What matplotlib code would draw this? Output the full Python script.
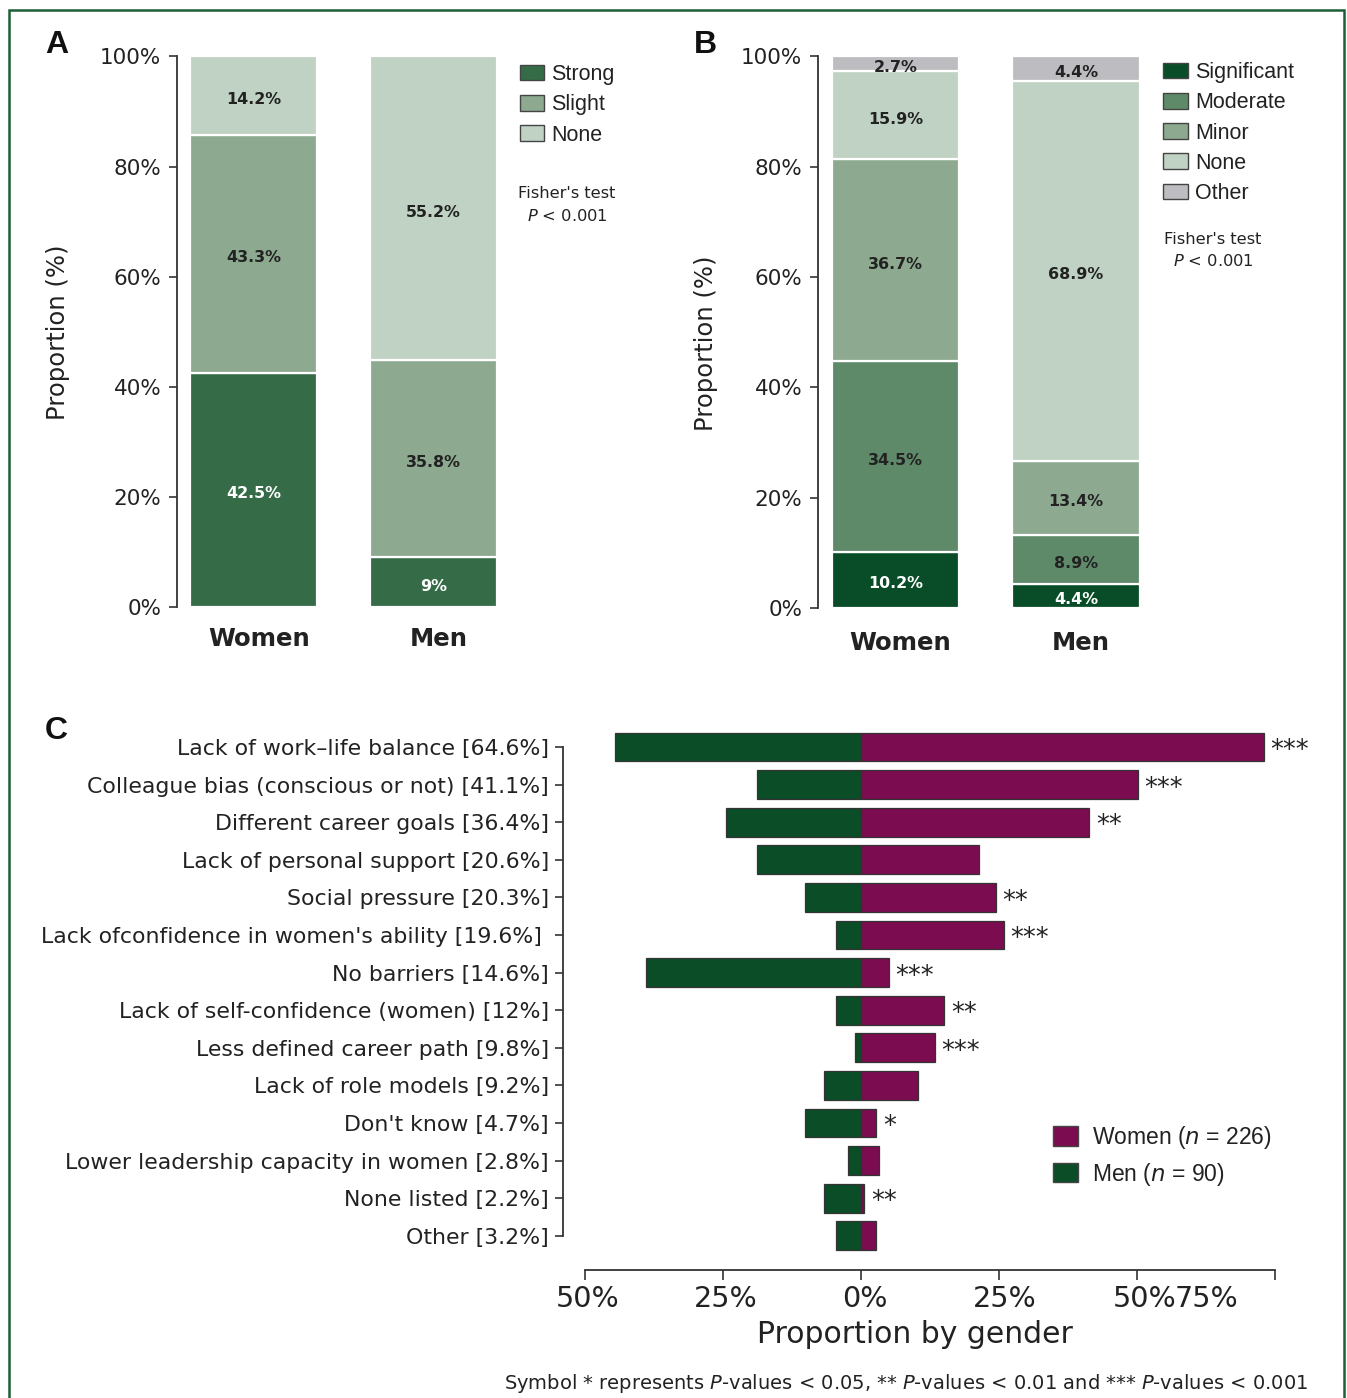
import matplotlib
matplotlib.use('Agg')
import matplotlib.pyplot as plt
from matplotlib.patches import Patch, Rectangle
import matplotlib.transforms as mtransforms

W, H = 1347, 1398
DPI = 100

# ---------------- data ----------------
groups = ['Women', 'Men']

a_cats = ['Strong', 'Slight', 'None']
a_strong = [42.5, 9.0]
a_slight = [43.3, 35.8]
a_none = [14.2, 55.2]
a_labels = [['42.5%', '9%'], ['43.3%', '35.8%'], ['14.2%', '55.2%']]
a_colors = ['#356b47', '#8daa91', '#bfd2c3']

b_cats = ['Significant', 'Moderate', 'Minor', 'None', 'Other']
b_significant = [10.2, 4.4]
b_moderate = [34.5, 8.9]
b_minor = [36.7, 13.4]
b_none = [15.9, 68.9]
b_other = [2.7, 4.4]
b_labels = [['10.2%', '4.4%'], ['34.5%', '8.9%'], ['36.7%', '13.4%'],
            ['15.9%', '68.9%'], ['2.7%', '4.4%']]
b_colors = ['#084d27', '#5f8a69', '#8daa91', '#bfd2c3', '#bdbdc1']

c_labels = ['Lack of work\u2013life balance [64.6%]',
            'Colleague bias (conscious or not) [41.1%]',
            'Different career goals [36.4%]',
            'Lack of personal support [20.6%]',
            'Social pressure [20.3%]',
            "Lack ofconfidence in women's ability [19.6%] ",
            'No barriers [14.6%]',
            'Lack of self-confidence (women) [12%]',
            'Less defined career path [9.8%]',
            'Lack of role models [9.2%]',
            "Don't know [4.7%]",
            'Lower leadership capacity in women [2.8%]',
            'None listed [2.2%]',
            'Other [3.2%]']
c_women = [73.0, 50.2, 41.4, 21.4, 24.4, 25.9, 5.0, 15.1, 13.4, 10.3, 2.8, 3.3, 0.6, 2.8]
c_men = [44.6, 18.9, 24.5, 18.9, 10.1, 4.5, 39.0, 4.5, 1.1, 6.7, 10.1, 2.3, 6.7, 4.5]
c_sig = ['***', '***', '**', '', '**', '***', '***', '**', '***', '', '*', '', '**', '']
c_ticks = [-50, -25, 0, 25, 50, 75]
c_ticklabels = ['50%', '25%', '0%', '25%', '50%', '75%']
c_women_label = r'Women ($\it{n}$ = 226)'
c_men_label = r'Men ($\it{n}$ = 90)'

y_ticks = [0, 20, 40, 60, 80, 100]
y_ticklabels = ['0%', '20%', '40%', '60%', '80%', '100%']

# ---------------- style ----------------
plt.rcParams['font.family'] = ['DejaVu Sans']
TXT = '#222222'
SPINE = '#333333'
LEG_FONT = 'Liberation Sans'

fig = plt.figure(figsize=(W / DPI, H / DPI), dpi=DPI)
fig.patch.set_facecolor('white')


def rect(x0, y0, x1, y1):
    return [x0 / W, 1 - y1 / H, (x1 - x0) / W, (y1 - y0) / H]


def shift(artist, dx=0, dy=0):
    artist.set_transform(artist.get_transform() +
                         mtransforms.ScaledTranslation(dx / DPI, -dy / DPI, fig.dpi_scale_trans))


def stacked(ax, series, colors, labels_white, texts):
    bottoms = [0.0, 0.0]
    for k, (vals, col) in enumerate(zip(series, colors)):
        ax.bar([0, 1], vals, width=0.706, bottom=bottoms, color=col,
               edgecolor='white', linewidth=1.6)
        for i in range(2):
            t = ax.text(i, bottoms[i] + vals[i] / 2, texts[k][i], ha='center', va='center',
                        fontsize=11.4, fontweight='bold',
                        color='white' if k in labels_white else TXT)
            shift(t, dy=4)
        bottoms = [bottoms[i] + vals[i] for i in range(2)]


def style_bar_axes(ax, xlim, pad_x):
    ax.set_xlim(*xlim)
    ax.set_ylim(0, 100)
    for s in ['top', 'right', 'bottom']:
        ax.spines[s].set_visible(False)
    ax.spines['left'].set_color(SPINE)
    ax.spines['left'].set_linewidth(1.3)
    ax.set_yticks(y_ticks)
    ax.set_yticklabels(y_ticklabels, fontsize=15.5, color=TXT)
    ax.tick_params(axis='y', length=5.8, width=1.2, color=SPINE, pad=5.5)
    ax.set_xticks([0, 1])
    ax.set_xticklabels(groups, fontsize=17.6, fontweight='bold', color=TXT)
    ax.tick_params(axis='x', length=0, pad=pad_x)
    for lab in ax.get_xticklabels():
        shift(lab, dx=5)


def side_legend(ax, handles, labels, x, y):
    ax.legend(handles, labels, loc='upper left', bbox_to_anchor=(x / W, 1 - y / H),
              bbox_transform=fig.transFigure, frameon=False, borderpad=0, borderaxespad=0,
              handlelength=1.16, handleheight=0.74, handletextpad=0.32, labelspacing=0.43,
              prop={'family': LEG_FONT, 'size': 15.5}, labelcolor=TXT)


# ---------------- Panel A ----------------
axA = fig.add_axes(rect(177, 56.4, 510, 607))
stacked(axA, [a_strong, a_slight, a_none], a_colors, [0], a_labels)
style_bar_axes(axA, (-0.426, 1.424), 14.5)
fig.text(58 / W, 1 - 332 / H, 'Proportion (%)', rotation=90, ha='center', va='center',
         fontsize=17.5, color=TXT)
hA = [Patch(facecolor=c, edgecolor='#444444', linewidth=1) for c in a_colors]
side_legend(axA, hA, a_cats, 519.5, 64)
fig.text(518 / W, 1 - 193 / H, "Fisher's test", ha='left', va='center', fontsize=11.7, color=TXT)
fig.text(527 / W, 1 - 216 / H, r"$\it{P}$ < 0.001", ha='left', va='center', fontsize=11.7, color=TXT)
fig.text(45 / W, 1 - 53 / H, 'A', ha='left', va='baseline', fontsize=23,
         fontweight='bold', family=LEG_FONT, color='#111111')

# ---------------- Panel B ----------------
axB = fig.add_axes(rect(818, 56.4, 1150, 608))
stacked(axB, [b_significant, b_moderate, b_minor, b_none, b_other], b_colors, [0], b_labels)
style_bar_axes(axB, (-0.43, 1.41), 16.5)
fig.text(706.5 / W, 1 - 343 / H, 'Proportion (%)', rotation=90, ha='center', va='center',
         fontsize=17.5, color=TXT)
hB = [Patch(facecolor=c, edgecolor='#444444', linewidth=1) for c in b_colors]
side_legend(axB, hB, b_cats, 1163, 62)
fig.text(1164 / W, 1 - 240 / H, "Fisher's test", ha='left', va='center', fontsize=11.7, color=TXT)
fig.text(1173 / W, 1 - 261 / H, r"$\it{P}$ < 0.001", ha='left', va='center', fontsize=11.7, color=TXT)
fig.text(694 / W, 1 - 53 / H, 'B', ha='left', va='baseline', fontsize=23,
         fontweight='bold', family=LEG_FONT, color='#111111')

# ---------------- Panel C ----------------
axC = fig.add_axes(rect(563, 715, 1320, 1270))
ypos = list(range(len(c_labels)))
women_col = '#7b0c4f'
men_col = '#0a4d27'
axC.barh(ypos, [-m for m in c_men], height=0.77, color=men_col, edgecolor='#333333', linewidth=0.9)
axC.barh(ypos, c_women, height=0.77, color=women_col, edgecolor='#333333', linewidth=0.9)
for i, s in enumerate(c_sig):
    if s:
        axC.text(c_women[i] + 1.2, i + 0.30, s, ha='left', va='baseline', fontsize=18.5, color=TXT)
axC.set_xlim(-54.02, 83.21)
axC.set_ylim(13.91, -0.851)
for s in ['top', 'right']:
    axC.spines[s].set_visible(False)
axC.spines['left'].set_bounds(0, 13)
axC.spines['bottom'].set_bounds(-50, 75)
for s in ['left', 'bottom']:
    axC.spines[s].set_color(SPINE)
    axC.spines[s].set_linewidth(1.3)
axC.set_yticks(ypos)
axC.set_yticklabels(c_labels, fontsize=15.85, color=TXT)
axC.tick_params(axis='y', length=5.8, width=1.2, color=SPINE, pad=4.3)
axC.set_xticks(c_ticks)
axC.set_xticklabels(c_ticklabels, fontsize=20.6, color=TXT)
axC.tick_params(axis='x', length=7.2, width=1.2, color=SPINE, pad=3.5)
x_offsets = [2, 3, 4, 6, 8, -68]
for lab, dx in zip(axC.get_xticklabels(), x_offsets):
    shift(lab, dx=dx)
fig.text(915 / W, 1 - 1343 / H, 'Proportion by gender', ha='center', va='baseline',
         fontsize=21.5, color=TXT)
fig.text(1308 / W, 1 - 1389 / H,
         r'Symbol * represents $\it{P}$-values < 0.05, ** $\it{P}$-values < 0.01 and *** $\it{P}$-values < 0.001',
         ha='right', va='baseline', fontsize=14, color=TXT)
hC = [Patch(facecolor=women_col, edgecolor='#444444', linewidth=1),
      Patch(facecolor=men_col, edgecolor='#444444', linewidth=1)]
axC.legend(hC, [c_women_label, c_men_label], loc='upper left',
           bbox_to_anchor=(1052.7 / W, 1 - 1124 / H), bbox_transform=fig.transFigure,
           frameon=False, borderpad=0, borderaxespad=0, handlelength=1.09,
           handleheight=0.92, handletextpad=0.61, labelspacing=0.42,
           prop={'family': LEG_FONT, 'size': 16.5}, labelcolor=TXT)
fig.text(45 / W, 1 - 739 / H, 'C', ha='left', va='baseline', fontsize=23,
         fontweight='bold', family=LEG_FONT, color='#111111')

# ---------------- border ----------------
fig.patches.append(Rectangle((8.5 / W, -0.02), (1344 - 8.5) / W, 1.02 - 10 / H,
                             transform=fig.transFigure, fill=False,
                             edgecolor='#1d5e35', linewidth=1.8))

fig.savefig('out.png', dpi=DPI)
